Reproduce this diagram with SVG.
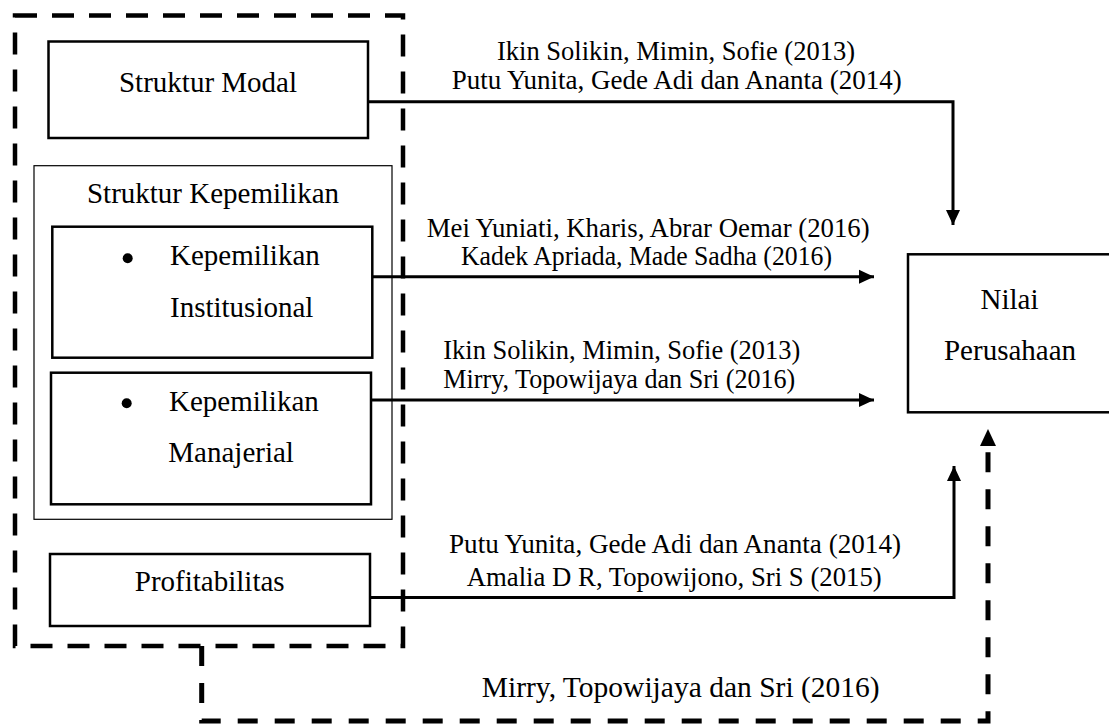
<svg xmlns="http://www.w3.org/2000/svg" width="1109" height="725" viewBox="0 0 1109 725">
<style>
text{font-family:"Liberation Serif","Times New Roman",serif;fill:#000}
.n{font-size:29px}
.l{font-size:27px}
.box{fill:#fff;stroke:#000;stroke-width:2.5}
.thin{fill:none;stroke:#000;stroke-width:1.2}
.con{fill:none;stroke:#000;stroke-width:3}
.dash{fill:none;stroke:#000;stroke-width:5;stroke-dasharray:20 17}
</style>
<defs>
<marker id="ah" markerUnits="userSpaceOnUse" markerWidth="16" markerHeight="16" refX="15" refY="8" orient="auto"><path d="M0,1 L15,8 L0,15 z" fill="#000"/></marker>
<marker id="ahd" markerUnits="userSpaceOnUse" markerWidth="18" markerHeight="18" refX="17" refY="8.5" orient="auto"><path d="M0,0.5 L17,8.5 L0,16.5 z" fill="#000"/></marker>
</defs>
<rect width="1109" height="725" fill="#fff"/>
<g id="group-box">
<rect x="15" y="15.5" width="388" height="630.5" fill="none" stroke="#000" stroke-width="4.5" stroke-dasharray="22 15"/>
</g>
<g id="struktur-modal">
<rect class="box" x="48.5" y="41.5" width="319.5" height="96.5"/>
<text class="n" x="208" y="92" text-anchor="middle">Struktur Modal</text>
</g>
<g id="struktur-kepemilikan">
<rect class="thin" x="34" y="165.7" width="358" height="353.6"/>
<text class="n" x="213" y="203" text-anchor="middle">Struktur Kepemilikan</text>
</g>
<g id="kepemilikan-institusional">
<rect class="box" x="52.3" y="226.7" width="320" height="131"/>
<circle cx="127.7" cy="258.3" r="5"/>
<text class="n" x="170" y="265">Kepemilikan</text>
<text class="n" x="170" y="317">Institusional</text>
</g>
<g id="kepemilikan-manajerial">
<rect class="box" x="51" y="372.7" width="320" height="131.6"/>
<circle cx="126.7" cy="403.3" r="5"/>
<text class="n" x="169" y="411">Kepemilikan</text>
<text class="n" x="168.3" y="462">Manajerial</text>
</g>
<g id="profitabilitas">
<rect class="box" x="50" y="554" width="320" height="72"/>
<text class="n" x="209.7" y="591" text-anchor="middle">Profitabilitas</text>
</g>
<g id="nilai-perusahaan">
<rect class="box" x="908" y="254.3" width="215" height="158"/>
<text class="n" x="1009.5" y="309" text-anchor="middle">Nilai</text>
<text class="n" x="1010" y="360" text-anchor="middle">Perusahaan</text>
</g>
<g id="connectors">
<path class="con" d="M368,101.7 H953 V225" marker-end="url(#ah)"/>
<path class="con" d="M372.3,276.7 H874" marker-end="url(#ah)"/>
<path class="con" d="M371,400 H874" marker-end="url(#ah)"/>
<path class="con" d="M370,597.5 H954 V466" marker-end="url(#ah)"/>
<path class="dash" d="M201.7,646 V721 H988 V440"/>
<path d="M988,442 V429" stroke="none" fill="none" marker-end="url(#ahd)"/>
</g>
<g id="labels">
<text class="l" x="497" y="60" textLength="358" lengthAdjust="spacingAndGlyphs">Ikin Solikin, Mimin, Sofie (2013)</text>
<text class="l" x="451.7" y="89" textLength="450" lengthAdjust="spacingAndGlyphs">Putu Yunita, Gede Adi dan Ananta (2014)</text>
<text class="l" x="426.7" y="236.5" textLength="443" lengthAdjust="spacingAndGlyphs">Mei Yuniati, Kharis, Abrar Oemar (2016)</text>
<text class="l" x="461" y="265" textLength="371" lengthAdjust="spacingAndGlyphs">Kadek Apriada, Made Sadha (2016)</text>
<text class="l" x="443.3" y="359" textLength="357" lengthAdjust="spacingAndGlyphs">Ikin Solikin, Mimin, Sofie (2013)</text>
<text class="l" x="443.3" y="387.5" textLength="352" lengthAdjust="spacingAndGlyphs">Mirry, Topowijaya dan Sri (2016)</text>
<text class="l" x="449" y="553.3" textLength="452" lengthAdjust="spacingAndGlyphs">Putu Yunita, Gede Adi dan Ananta (2014)</text>
<text class="l" x="466.7" y="585.5" textLength="415" lengthAdjust="spacingAndGlyphs">Amalia D R, Topowijono, Sri S (2015)</text>
<text class="n" x="481.7" y="696.7" textLength="398" lengthAdjust="spacingAndGlyphs">Mirry, Topowijaya dan Sri (2016)</text>
</g>
</svg>
